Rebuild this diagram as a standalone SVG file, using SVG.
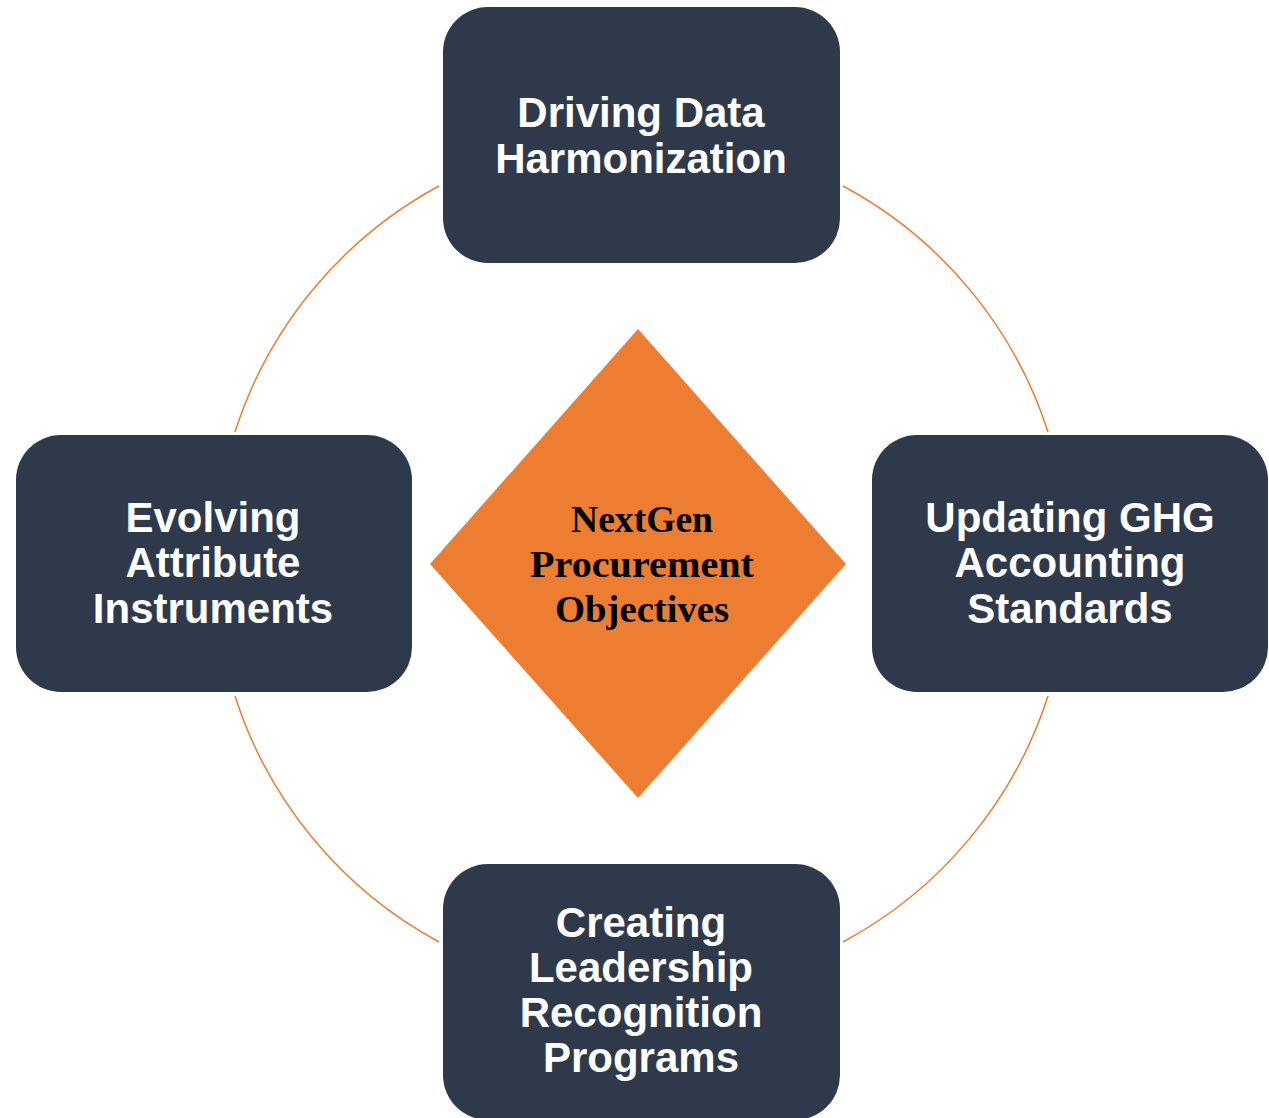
<svg xmlns="http://www.w3.org/2000/svg" width="1269" height="1118" viewBox="0 0 1269 1118">
  <style>
    .box { fill: #2E3A4B; }
    .lbl { font-family: "Liberation Sans", Arial, sans-serif; font-weight: bold; font-size: 42px; fill: #FFFFFF; text-anchor: middle; }
    .core { fill: #ED7D31; }
    .core-lbl { font-family: "Liberation Serif", "Times New Roman", serif; font-weight: bold; font-size: 37px; fill: #000000; text-anchor: middle; }
    .ring { fill: none; stroke: #ED7D31; stroke-width: 1.5; }
  </style>
  <rect width="1269" height="1118" fill="#FFFFFF"/>

  <!-- ring segments joining the four outer boxes (centre 641,564 r 428) -->
  <g id="connectors">
    <path class="ring" d="M 439 186 A 428 428 0 0 0 235 432"/>
    <path class="ring" d="M 843 186 A 428 428 0 0 1 1048 432"/>
    <path class="ring" d="M 1048 696 A 428 428 0 0 1 843 942"/>
    <path class="ring" d="M 439 942 A 428 428 0 0 1 235 696"/>
  </g>

  <g id="core">
    <polygon class="core" points="638,329 846,564 638,798 430,564"/>
    <text class="core-lbl" x="642" y="532" textLength="142" lengthAdjust="spacingAndGlyphs">NextGen</text>
    <text class="core-lbl" x="642" y="577" textLength="224" lengthAdjust="spacingAndGlyphs">Procurement</text>
    <text class="core-lbl" x="642" y="622" textLength="174" lengthAdjust="spacingAndGlyphs">Objectives</text>
  </g>

  <g id="node-top">
    <rect class="box" x="443" y="7" width="397" height="256" rx="45" ry="45"/>
    <text class="lbl" x="641" y="127">Driving Data</text>
    <text class="lbl" x="641" y="173">Harmonization</text>
  </g>

  <g id="node-left">
    <rect class="box" x="16" y="435" width="396" height="257" rx="45" ry="45"/>
    <text class="lbl" x="213" y="532">Evolving</text>
    <text class="lbl" x="213" y="577">Attribute</text>
    <text class="lbl" x="213" y="623">Instruments</text>
  </g>

  <g id="node-right">
    <rect class="box" x="872" y="435" width="396" height="257" rx="45" ry="45"/>
    <text class="lbl" x="1070" y="532">Updating GHG</text>
    <text class="lbl" x="1070" y="577">Accounting</text>
    <text class="lbl" x="1070" y="623">Standards</text>
  </g>

  <g id="node-bottom">
    <rect class="box" x="443" y="864" width="397" height="256" rx="45" ry="45"/>
    <text class="lbl" x="641" y="937">Creating</text>
    <text class="lbl" x="641" y="982">Leadership</text>
    <text class="lbl" x="641" y="1027">Recognition</text>
    <text class="lbl" x="641" y="1072">Programs</text>
  </g>
</svg>
